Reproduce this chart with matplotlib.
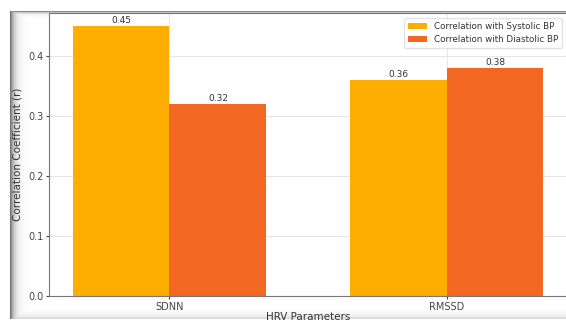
import matplotlib.pyplot as plt
import numpy as np

categories = ["SDNN", "RMSSD"]
systolic = [0.45, 0.36]
diastolic = [0.32, 0.38]
series_labels = ["Correlation with Systolic BP", "Correlation with Diastolic BP"]

W, H = 566, 323
fig = plt.figure(figsize=(W / 100, H / 100), dpi=100)

# screenshot frame with soft shadow behind the chart
bg = fig.add_axes([0, 0, 1, 1], zorder=0)
img = np.ones((H, W))
yy, xx = np.mgrid[0:H, 0:W]
inside = (xx >= 10) & (yy >= 11) & (yy <= 318)
dl = xx - 10
dt = yy - 11
db = 318 - yy
shade = np.maximum.reduce([
    0.55 * np.exp(-dl / 4.0),
    0.45 * np.exp(-dt / 1.5),
    0.15 * np.exp(-db / 3.0),
])
img[inside] = 1 - shade[inside]
bg.imshow(img, cmap="gray", vmin=0, vmax=1, aspect="auto", interpolation="bilinear")
bg.axis("off")

ax = fig.add_axes([49 / W, 27 / H, 518 / W, 283 / H], zorder=1)
x = np.arange(len(categories))
width = 0.35
b1 = ax.bar(x - width / 2, systolic, width, color="#FFAD00", label=series_labels[0], zorder=2)
b2 = ax.bar(x + width / 2, diastolic, width, color="#F26722", label=series_labels[1], zorder=2)

for bars in (b1, b2):
    for rect in bars:
        h = rect.get_height()
        ax.text(rect.get_x() + rect.get_width() / 2, h + 0.002, f"{h:.2f}",
                ha="center", va="bottom", fontsize=6.5, color="#333333")

ax.set_xticks(x)
ax.set_xticklabels(categories)
ax.set_xlim(-0.435, 1.435)
ax.set_ylim(0, 0.4725)
ax.set_yticks([0.0, 0.1, 0.2, 0.3, 0.4])
ax.tick_params(labelsize=7, colors="#444444", length=2.5, pad=1.5)
ax.set_xlabel("HRV Parameters", fontsize=7.5, color="#333333", labelpad=0)
ax.set_ylabel("Correlation Coefficient (r)", fontsize=7.5, color="#333333", labelpad=4)
ax.grid(True, color="#e6e6e6", linewidth=0.8, zorder=0)
ax.set_axisbelow(True)
for s in ax.spines.values():
    s.set_color("#777777")

ax.legend(loc="upper right", fontsize=6.3, frameon=True, edgecolor="#dddddd",
          handlelength=2.2, borderaxespad=0.6, labelcolor="#333333")

fig.savefig("out.png", dpi=100)
